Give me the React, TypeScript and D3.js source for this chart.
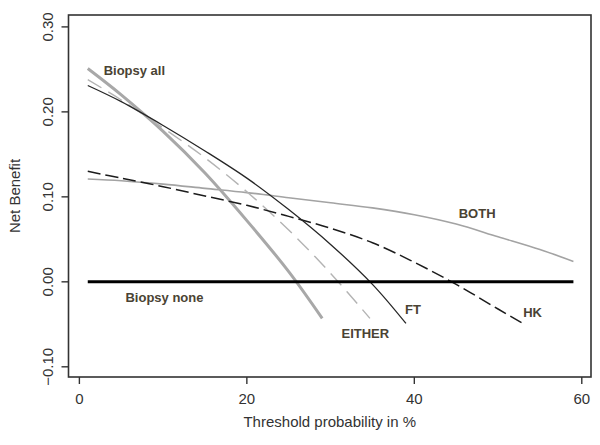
import React, { useRef, useEffect } from 'react';
import * as d3 from 'd3';

// threshold probability (%) sampled along each curve
const xBiopsyAll = [1, 5, 10, 15, 20, 25, 29];
const yBiopsyAll = [0.251, 0.22, 0.177, 0.128, 0.072, 0.012, -0.043];

const xFT = [1, 5, 10, 15, 20, 25, 30, 35, 39];
const yFT = [0.231, 0.212, 0.184, 0.154, 0.122, 0.085, 0.044, -0.003, -0.049];

const xEither = [1, 5, 10, 15, 20, 25, 30, 34.7];
const yEither = [0.238, 0.214, 0.181, 0.146, 0.106, 0.061, 0.01, -0.043];

const xHK = [1, 5, 10, 15, 20, 25, 30, 35, 40, 45, 50, 52.8];
const yHK = [0.13, 0.122, 0.112, 0.101, 0.09, 0.077, 0.063, 0.046, 0.023, -0.003, -0.032, -0.048];

const xBoth = [1, 5, 10, 15, 20, 25, 30, 35, 40, 45, 50, 55, 59];
const yBoth = [0.121, 0.119, 0.115, 0.11, 0.105, 0.099, 0.093, 0.087, 0.079, 0.068, 0.053, 0.038, 0.024];

const xNone = [1, 59];
const yNone = [0, 0];

const xTicks = [0, 20, 40, 60];
const yTicks = [-0.1, 0, 0.1, 0.2, 0.3];

const labelText = ['Biopsy all', 'Biopsy none', 'BOTH', 'FT', 'HK', 'EITHER'];
const labelX = [2.9, 5.5, 45.3, 38.9, 53, 31.3];
const labelY = [0.249, -0.018, 0.08, -0.033, -0.036, -0.061];

export default function App() {
  const svgRef = useRef<SVGSVGElement>(null);

  useEffect(() => {
    if (!svgRef.current) return;
    const svg = d3.select(svgRef.current);
    svg.selectAll('*').remove();

    const left = 68.5, right = 591, top = 15, bottom = 377;
    const x = d3.scaleLinear().domain([-1.3, 61.1]).range([left, right]);
    const y = d3.scaleLinear().domain([-0.112, 0.314]).range([bottom, top]);
    const font = 'Arial, "Liberation Sans", sans-serif';

    const line = d3.line<[number, number]>()
      .x((d) => x(d[0]))
      .y((d) => y(d[1]))
      .curve(d3.curveCatmullRom.alpha(0.5));

    const series = [
      { xs: xBoth, ys: yBoth, color: '#a3a3a3', width: 1.6, dash: 'none' },
      { xs: xBiopsyAll, ys: yBiopsyAll, color: '#a8a8a8', width: 3, dash: 'none' },
      { xs: xEither, ys: yEither, color: '#b3b3b3', width: 1.4, dash: '16,8' },
      { xs: xHK, ys: yHK, color: '#1c1c1c', width: 1.5, dash: '13,5' },
      { xs: xFT, ys: yFT, color: '#262626', width: 1.3, dash: 'none' },
      { xs: xNone, ys: yNone, color: '#000000', width: 3, dash: 'none' },
    ];

    series.forEach((s) => {
      const pts = s.xs.map((v, i) => [v, s.ys[i]] as [number, number]);
      svg.append('path')
        .attr('d', line(pts) as string)
        .attr('fill', 'none')
        .attr('stroke', s.color)
        .attr('stroke-width', s.width)
        .attr('stroke-dasharray', s.dash);
    });

    // frame
    svg.append('rect')
      .attr('x', left).attr('y', top)
      .attr('width', right - left).attr('height', bottom - top)
      .attr('fill', 'none')
      .attr('stroke', '#333')
      .attr('stroke-width', 1.6);

    // x ticks
    xTicks.forEach((t) => {
      svg.append('line')
        .attr('x1', x(t)).attr('x2', x(t))
        .attr('y1', bottom).attr('y2', bottom + 7)
        .attr('stroke', '#333').attr('stroke-width', 1.4);
      svg.append('text')
        .attr('x', x(t)).attr('y', bottom + 27)
        .attr('text-anchor', 'middle')
        .attr('font-family', font).attr('font-size', 15)
        .attr('fill', '#333')
        .text(t);
    });

    // y ticks
    yTicks.forEach((t) => {
      svg.append('line')
        .attr('x1', left).attr('x2', left - 7)
        .attr('y1', y(t)).attr('y2', y(t))
        .attr('stroke', '#333').attr('stroke-width', 1.4);
      svg.append('text')
        .attr('transform', `translate(${53},${y(t)}) rotate(-90)`)
        .attr('text-anchor', 'middle')
        .attr('font-family', font).attr('font-size', 15)
        .attr('fill', '#333')
        .text(d3.format('.2f')(t));
    });

    svg.append('text')
      .attr('x', (left + right) / 2).attr('y', 427)
      .attr('text-anchor', 'middle')
      .attr('font-family', font).attr('font-size', 15)
      .attr('fill', '#333')
      .text('Threshold probability in %');

    svg.append('text')
      .attr('transform', `translate(${20},${(top + bottom) / 2}) rotate(-90)`)
      .attr('text-anchor', 'middle')
      .attr('font-family', font).attr('font-size', 15)
      .attr('fill', '#333')
      .text('Net Benefit');

    labelText.forEach((t, i) => {
      svg.append('text')
        .attr('x', x(labelX[i])).attr('y', y(labelY[i]))
        .attr('dominant-baseline', 'central')
        .attr('font-family', font).attr('font-size', 13)
        .attr('font-weight', 'bold')
        .attr('fill', '#4a4333')
        .text(t);
    });
  }, []);

  return (
    <svg
      ref={svgRef}
      width={600}
      height={445}
      style={{ position: 'absolute', left: 0, top: 0, background: '#fff' }}
    />
  );
}
